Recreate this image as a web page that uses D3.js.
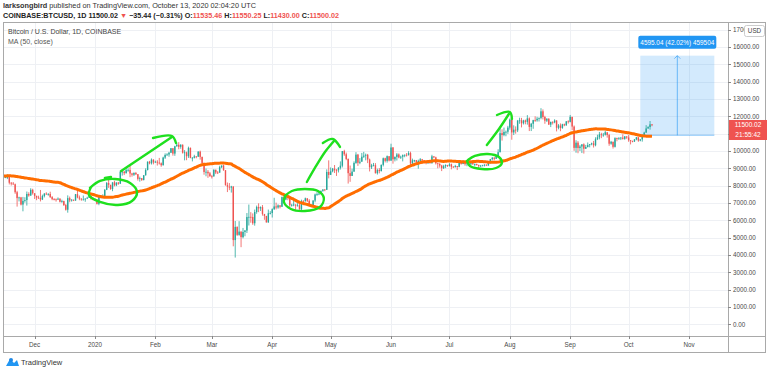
<!DOCTYPE html>
<html>
<head>
<meta charset="utf-8">
<script src="https://cdn.jsdelivr.net/npm/d3@7"></script>
<style>
  body { margin: 0; background: #fff; }
  svg { display: block; font-family: "Liberation Sans", Arial, sans-serif; }
</style>
</head>
<body>
<div id="chart"></div>
<script>
// closes before the visible window, only used to warm up the 50 day average (from 2019-09-26)
var warmupCloses = [8060, 8190, 8210, 8050, 8300,
  8330, 8380, 8240, 8150, 8130, 7870, 8210, 8190, 8590, 8590, 8270, 8310, 8290, 8360, 8160, 8000,
  8080, 7960, 7950, 8230, 8220, 8030, 7470, 7440, 8660, 9250, 9550, 9220, 9420, 9170, 9150];

// daily bars from 2019-11-01 to 2020-10-13 (open = previous close)
var closes = [
  9250, 9310, 9200, 9400, 9310, 9340, 9200, 8770, 8810, 9040, 8720, 8820, 8760, 8630, 8460, 8490, 8500, 8170, 8120, 8080, 7620, 7280, 7320, 6910, 7120, 7170, 7520, 7430, 7760, 7560,
  7410, 7310, 7300, 7200, 7400, 7540, 7510, 7520, 7340, 7220, 7210, 7190, 7250, 7070, 7110, 6880, 6610, 7280, 7150, 7190, 7140, 7510, 7320, 7250, 7200, 7200, 7250, 7300, 7390, 7220, 7170,
  7180, 6950, 7340, 7350, 7350, 7760, 8150, 8050, 7810, 8190, 8020, 8180, 8110, 8810, 8810, 8720, 8900, 8910, 8700, 8630, 8730, 8660, 8390, 8430, 8330, 8600, 8900, 9380, 9290, 9500, 9340,
  9380, 9330, 9290, 9180, 9620, 9770, 9800, 9900, 10160, 9850, 10270, 10360, 10240, 10360, 9900, 9920, 9700, 10180, 9600, 9610, 9690, 9670, 9960, 9660, 9310, 8790, 8800, 8710, 8540,
  8530, 8920, 8760, 8750, 9070, 9160, 8890, 8030, 7940, 7890, 7950, 4860, 5620, 5160, 5350, 5030, 5330, 5410, 6190, 6200, 6190, 5830, 6480, 6770, 6690, 6760, 6370, 6250, 5880, 6410, 6420,
  6640, 6800, 6740, 6860, 6780, 7340, 7200, 7370, 7300, 6870, 6890, 6910, 6850, 6860, 6630, 7120, 7100, 7270, 7130, 6860, 6850, 7140, 7490, 7510, 7540, 7700, 7780, 7760, 8790, 8620,
  8830, 8980, 8900, 8890, 9030, 9150, 9990, 9810, 9540, 8720, 8560, 8810, 9310, 9790, 9320, 9380, 9670, 9730, 9780, 9510, 9060, 9170, 9180, 8720, 8900, 8840, 9200, 9580, 9430, 9700, 9450,
  10200, 9520, 9660, 9800, 9620, 9670, 9760, 9780, 9770, 9880, 9280, 9460, 9470, 9340, 9430, 9520, 9460, 9380, 9300, 9360, 9290, 9690, 9630, 9290, 9250, 9160, 9010, 9120, 9190, 9140,
  9230, 9090, 9060, 9130, 9080, 9340, 9250, 9430, 9240, 9290, 9240, 9300, 9240, 9250, 9190, 9130, 9150, 9170, 9210, 9160, 9390, 9530, 9610, 9550, 9710, 9930, 11030, 10920, 11100, 11110, 11350,
  11810, 11070, 11230, 11190, 11750, 11770, 11600, 11760, 11680, 11880, 11390, 11570, 11780, 11770, 11860, 11910, 12290, 11960, 11750, 11860, 11520, 11680, 11650, 11760, 11340, 11470, 11330, 11540, 11480, 11710, 11680,
  11970, 11410, 10180, 10480, 10170, 10260, 10380, 10130, 10230, 10340, 10390, 10440, 10330, 10680, 10790, 10960, 10940, 10940, 11080, 10920, 10420, 10530, 10240, 10740, 10690, 10730, 10770, 10700, 10840, 10780,
  10620, 10570, 10550, 10670, 10790, 10600, 10670, 10920, 11060, 11300, 11380, 11535.46, 11500.02];

var highs = [
  9280, 9370, 9380, 9590, 9450, 9440, 9370, 9230, 8860, 9120, 9070, 8880, 8840, 8790, 8670, 8530, 8650, 8500, 8200, 8210, 8120, 7700, 7360, 7350, 7350, 7330, 7660, 7620, 7850, 7820,
  7570, 7420, 7420, 7750, 7480, 7570, 7620, 7570, 7650, 7400, 7280, 7260, 7320, 7270, 7190, 7130, 6940, 7440, 7370, 7220, 7190, 7520, 7690, 7430, 7270, 7430, 7270, 7360, 7520, 7410, 7320,
  7250, 7210, 7400, 7400, 7500, 7800, 8210, 8460, 8050, 8190, 8280, 8190, 8200, 8880, 8900, 8840, 9010, 9000, 9190, 8740, 8770, 8790, 8670, 8520, 8440, 8610, 9000, 9400, 9430, 9570, 9520,
  9440, 9470, 9600, 9340, 9670, 9860, 9870, 9950, 10170, 10160, 10300, 10480, 10510, 10390, 10380, 10050, 9960, 10250, 10200, 9650, 9780, 9700, 9990, 10020, 9670, 9340, 8990, 8900, 8790,
  8620, 8940, 8920, 8840, 9150, 9170, 9210, 8900, 8180, 8150, 7990, 7960, 5960, 5650, 5950, 5360, 5560, 5440, 6420, 6910, 6470, 6400, 6620, 6850, 6980, 6800, 6880, 6290, 6260, 6620, 6530,
  6690, 7300, 7020, 6920, 6880, 7370, 7470, 7420, 7370, 7300, 6950, 7180, 6920, 6990, 6940, 7190, 7160, 7310, 7270, 7220, 6930, 7160, 7540, 7630, 7700, 7720, 7790, 7800, 8940, 9460,
  9050, 9020, 9190, 8960, 9070, 9400, 10000, 10070, 9910, 9570, 9160, 8980, 9400, 9930, 9830, 9590, 9890, 9950, 9850, 9830, 9560, 9260, 9310, 9300, 8980, 9010, 9220, 9620, 9610, 9740, 9700,
  10420, 10230, 9680, 9880, 9860, 9730, 9800, 9800, 9880, 9990, 9960, 9560, 9490, 9480, 9500, 9590, 9540, 9480, 9400, 9400, 9420, 9780, 9700, 9670, 9330, 9300, 9200, 9200, 9230, 9200,
  9300, 9270, 9130, 9200, 9130, 9370, 9360, 9460, 9440, 9300, 9300, 9350, 9350, 9280, 9270, 9210, 9190, 9200, 9230, 9220, 9420, 9540, 9650, 9650, 9740, 10100, 11400, 11250, 11350, 11180, 11450,
  11870, 12090, 11480, 11420, 11790, 11920, 11910, 11800, 11810, 12070, 11940, 11620, 11800, 12000, 11970, 11930, 12470, 12400, 12030, 11890, 11890, 11690, 11710, 11830, 11770, 11550, 11590, 11570, 11580, 11720, 11770,
  12080, 11970, 11470, 10620, 10570, 10350, 10400, 10440, 10350, 10490, 10400, 10480, 10580, 10790, 10940, 11100, 11050, 11040, 11180, 11080, 10990, 10580, 10540, 10790, 10770, 10800, 10800, 10960, 10860, 10850,
  10920, 10630, 10600, 10690, 10800, 10800, 10680, 10950, 11110, 11490, 11430, 11730, 11550.25];

var lows = [
  9030, 9200, 9070, 9150, 9180, 9250, 9110, 8700, 8740, 8780, 8620, 8690, 8710, 8570, 8400, 8430, 8380, 8070, 8010, 8050, 7530, 6790, 7090, 6860, 6520, 7020, 6850, 7360, 7410, 7480,
  7230, 7160, 7240, 7090, 7170, 7320, 7470, 7420, 7290, 7160, 7150, 7080, 7190, 7030, 7010, 6830, 6560, 6440, 7040, 7080, 7110, 7130, 7270, 7160, 7130, 7160, 7070, 7240, 7290, 7200, 7150,
  7150, 6910, 6870, 7270, 7320, 7350, 7740, 7870, 7760, 7680, 7960, 7970, 8050, 8110, 8580, 8610, 8700, 8800, 8490, 8520, 8560, 8610, 8290, 8230, 8270, 8300, 8580, 8880, 9230, 9220, 9230,
  9320, 9160, 9220, 9090, 9160, 9540, 9720, 9670, 9880, 9730, 9720, 10250, 10100, 10130, 9850, 9460, 9470, 9600, 9580, 9400, 9570, 9580, 9660, 9500, 9260, 8630, 8540, 8450, 8520,
  8410, 8530, 8670, 8670, 8750, 9010, 8860, 8000, 7630, 7740, 7600, 4500, 3850, 5100, 5110, 4450, 4960, 5080, 5270, 5700, 5860, 5740, 5690, 6380, 6470, 6540, 6270, 6030, 5870, 5860, 6340,
  6160, 6600, 6630, 6670, 6690, 6780, 7110, 7160, 7160, 6770, 6790, 6810, 6570, 6800, 6620, 6480, 7000, 7080, 7050, 6800, 6800, 6830, 7040, 7410, 7450, 7500, 7650, 7680, 7750, 8420,
  8630, 8770, 8730, 8560, 8760, 8930, 9050, 9720, 9470, 8120, 8220, 8560, 8800, 9260, 9140, 9240, 9390, 9600, 9460, 9300, 8820, 8960, 9110, 8700, 8640, 8710, 8820, 9110, 9340, 9330, 9400,
  9420, 9270, 9400, 9450, 9580, 9540, 9400, 9640, 9680, 9730, 9090, 9250, 9350, 9270, 8980, 9380, 9250, 9300, 9230, 9250, 9280, 9280, 9580, 9220, 9000, 9040, 8840, 8960, 9010, 9080,
  9100, 8940, 9040, 9060, 8900, 9060, 9210, 9240, 9150, 9120, 9190, 9180, 9200, 9110, 9160, 9000, 9090, 9120, 9110, 9140, 9150, 9270, 9460, 9460, 9540, 9630, 9920, 10600, 10850, 10850, 10990,
  11230, 10650, 10920, 11000, 11090, 11570, 11360, 11530, 11540, 11520, 11150, 11150, 11280, 11680, 11690, 11700, 11830, 11820, 11570, 11670, 11510, 11380, 11530, 11600, 11130, 11250, 11140, 11280, 11430, 11460, 11580,
  11650, 11200, 10010, 9900, 9870, 10000, 9880, 9850, 10120, 10200, 10210, 10330, 10200, 10270, 10630, 10670, 10740, 10820, 10890, 10770, 10300, 10360, 10140, 10200, 10560, 10650, 10630, 10660, 10650, 10700,
  10530, 10380, 10500, 10520, 10620, 10530, 10560, 10540, 10830, 11050, 11280, 11230, 11430];

var monthTicks = ["2019-12-01", "2020-01-01", "2020-02-01", "2020-03-01", "2020-04-01", "2020-05-01",
  "2020-06-01", "2020-07-01", "2020-08-01", "2020-09-01", "2020-10-01", "2020-11-01"];
var monthLabels = ["Dec", "2020", "Feb", "Mar", "Apr", "May", "Jun", "Jul", "Aug", "Sep", "Oct", "Nov"];
var priceTicks = d3.range(0, 18000, 1000);

// hand drawn marks: [days after 2020-01-01, price]
var drawings = [
  [[-2.6, 7865], [2.6, 8269], [10.3, 8384], [18.0, 8153], [21.6, 7634], [19.0, 7115], [11.8, 6884], [2.6, 7057], [-3.1, 7461], [-2.0, 7923]],
  [[5.1, 8442], [8.2, 8500]],
  [[13.4, 8846], [39.5, 10808]],
  [[29.8, 10750], [39.5, 10866], [41.6, 10462]],
  [[97.5, 7403], [101.1, 7692], [107.8, 7807], [114.5, 7692], [117.5, 7288], [115.5, 6769], [107.8, 6538], [100.6, 6653], [97.0, 7057], [98.0, 7461]],
  [[108.8, 8211], [112.9, 9019], [118.1, 9942], [122.7, 10577]],
  [[117.0, 10462], [122.1, 10692], [125.8, 10231]],
  [[191.5, 9481], [195.1, 9712], [201.7, 9827], [207.4, 9654], [208.9, 9308], [205.9, 9019], [198.7, 8961], [192.5, 9135], [191.0, 9423]],
  [[201.2, 10346], [207.4, 11269], [212.5, 12135]],
  [[206.4, 12077], [213.0, 12250], [214.1, 11846]]
];

// price range tool
var rangeDates = ["2020-10-07", "2020-11-14"];
var rangePrices = [10904.96, 15500];
var rangeLabel = "4595.04 (42.02%) 459504";

var svgWidth = 768, svgHeight = 371;
var pane = { left: 3, right: 728, top: 22, bottom: 336 };
var parse = d3.timeParse("%Y-%m-%d");
var upColor = "#26a69a", downColor = "#ef5350";

var svg = d3.select("#chart").append("svg")
  .attr("width", svgWidth)
  .attr("height", svgHeight);

var xScale = d3.scaleTime()
  .domain([parse("2020-01-01"), parse("2020-11-01")])
  .range([95, 689]);
var yScale = d3.scaleLinear()
  .domain([0, 16000])
  .range([324.3, 47]);

function dayPoint(p) {
  return [xScale(d3.timeHour.offset(parse("2020-01-01"), Math.round(p[0] * 24))), yScale(p[1])];
}

// build bars
var firstDay = parse("2019-11-01");
var bars = closes.map(function(c, i) {
  var o = i === 0 ? warmupCloses[warmupCloses.length - 1] : closes[i - 1];
  return { date: d3.timeDay.offset(firstDay, i), open: o, high: highs[i], low: lows[i], close: c };
});

// 50 day moving average on closes
var allCloses = warmupCloses.concat(closes);
var warmStart = parse("2019-09-26");
var maData = [];
for (var j = 49; j < allCloses.length; j++) {
  maData.push({ date: d3.timeDay.offset(warmStart, j), value: d3.mean(allCloses.slice(j - 49, j + 1)) });
}

// header
var h1 = svg.append("text").attr("x", 3).attr("y", 8).attr("font-size", 7.3).attr("fill", "#333");
h1.append("tspan").attr("font-weight", "bold").text("larksongbird");
h1.append("tspan").text(" published on TradingView.com, October 13, 2020 02:04:20 UTC");

var h2 = svg.append("text").attr("x", 3).attr("y", 17.5).attr("font-size", 7.2).attr("fill", "#222").attr("font-weight", "bold");
h2.append("tspan").text("COINBASE:BTCUSD, 1D 11500.02 ");
h2.append("tspan").attr("fill", downColor).text("▼");
h2.append("tspan").text(" −35.44 (−0.31%) O:");
h2.append("tspan").attr("fill", downColor).text("11535.46");
h2.append("tspan").text(" H:");
h2.append("tspan").attr("fill", downColor).text("11550.25");
h2.append("tspan").text(" L:");
h2.append("tspan").attr("fill", downColor).text("11430.00");
h2.append("tspan").text(" C:");
h2.append("tspan").attr("fill", downColor).text("11500.02");

// clip for the main pane
svg.append("clipPath").attr("id", "paneClip")
  .append("rect")
  .attr("x", pane.left).attr("y", pane.top)
  .attr("width", pane.right - pane.left).attr("height", pane.bottom - pane.top);

var grid = svg.append("g").attr("clip-path", "url(#paneClip)");
grid.selectAll(".hgrid").data(priceTicks).enter().append("line")
  .attr("x1", pane.left).attr("x2", pane.right)
  .attr("y1", function(d) { return Math.round(yScale(d)) + 0.5; })
  .attr("y2", function(d) { return Math.round(yScale(d)) + 0.5; })
  .attr("stroke", "#eef0f4");
grid.selectAll(".vgrid").data(monthTicks).enter().append("line")
  .attr("x1", function(d) { return Math.round(xScale(parse(d))) + 0.5; })
  .attr("x2", function(d) { return Math.round(xScale(parse(d))) + 0.5; })
  .attr("y1", pane.top).attr("y2", pane.bottom)
  .attr("stroke", "#eef0f4");

var chartGroup = svg.append("g").attr("clip-path", "url(#paneClip)");

// price range tool
var rx0 = xScale(parse(rangeDates[0])), rx1 = xScale(parse(rangeDates[1]));
var ry0 = yScale(rangePrices[1]), ry1 = yScale(rangePrices[0]);
chartGroup.append("rect")
  .attr("x", rx0).attr("y", ry0).attr("width", rx1 - rx0).attr("height", ry1 - ry0)
  .attr("fill", "rgba(33,150,243,0.2)");
chartGroup.append("line")
  .attr("x1", rx0).attr("x2", rx1).attr("y1", ry1).attr("y2", ry1)
  .attr("stroke", "rgba(33,150,243,0.45)");
chartGroup.append("line")
  .attr("x1", (rx0 + rx1) / 2).attr("x2", (rx0 + rx1) / 2).attr("y1", ry1).attr("y2", ry0)
  .attr("stroke", "rgba(33,150,243,0.6)");
chartGroup.append("path")
  .attr("d", "M" + ((rx0 + rx1) / 2 - 3) + "," + (ry0 + 3) + "L" + ((rx0 + rx1) / 2) + "," + ry0 + "L" + ((rx0 + rx1) / 2 + 3) + "," + (ry0 + 3))
  .attr("fill", "none").attr("stroke", "rgba(33,150,243,0.6)");

// candles
var candles = chartGroup.selectAll(".candle").data(bars).enter().append("g");
candles.append("line")
  .attr("x1", function(d) { return xScale(d.date); })
  .attr("x2", function(d) { return xScale(d.date); })
  .attr("y1", function(d) { return yScale(d.high); })
  .attr("y2", function(d) { return yScale(d.low); })
  .attr("stroke", function(d) { return d.close >= d.open ? upColor : downColor; })
  .attr("stroke-width", 0.8);
candles.append("rect")
  .attr("x", function(d) { return xScale(d.date) - 0.7; })
  .attr("width", 1.4)
  .attr("y", function(d) { return yScale(Math.max(d.open, d.close)); })
  .attr("height", function(d) { return Math.max(0.8, Math.abs(yScale(d.open) - yScale(d.close))); })
  .attr("fill", function(d) { return d.close >= d.open ? upColor : downColor; });

// moving average
var maLine = d3.line()
  .x(function(d) { return xScale(d.date); })
  .y(function(d) { return yScale(d.value); })
  .curve(d3.curveMonotoneX);
chartGroup.append("path")
  .datum(maData)
  .attr("d", maLine)
  .attr("fill", "none")
  .attr("stroke", "#ff6d00")
  .attr("stroke-width", 3)
  .attr("stroke-linejoin", "round");

// green hand drawings
var drawLine = d3.line().curve(d3.curveCatmullRom);
chartGroup.selectAll(".drawing").data(drawings).enter().append("path")
  .attr("d", function(d) { return drawLine(d.map(dayPoint)); })
  .attr("fill", "none")
  .attr("stroke", "#1ee01e")
  .attr("stroke-width", 2.4)
  .attr("stroke-linecap", "round")
  .attr("stroke-linejoin", "round");

// range label
var lx = (rx0 + rx1) / 2;
svg.append("rect")
  .attr("x", lx - 39).attr("y", ry0 - 20).attr("width", 78).attr("height", 13).attr("rx", 2)
  .attr("fill", "#2196f3");
svg.append("text")
  .attr("x", lx).attr("y", ry0 - 11).attr("text-anchor", "middle")
  .attr("font-size", 6.4).attr("fill", "#fff")
  .text(rangeLabel);

// legend
svg.append("text").attr("x", 8).attr("y", 34).attr("font-size", 7).attr("fill", "#444")
  .text("Bitcoin / U.S. Dollar, 1D, COINBASE");
svg.append("text").attr("x", 8).attr("y", 43.5).attr("font-size", 7).attr("fill", "#555")
  .text("MA (50, close)");

// frame and axis separators
svg.append("rect")
  .attr("x", 3.5).attr("y", 22.5).attr("width", 762).attr("height", 330)
  .attr("fill", "none").attr("stroke", "#a9a9a9");
svg.append("line").attr("x1", pane.right + 0.5).attr("x2", pane.right + 0.5)
  .attr("y1", 22).attr("y2", 353).attr("stroke", "#a9a9a9");
svg.append("line").attr("x1", 3).attr("x2", 766)
  .attr("y1", pane.bottom + 0.5).attr("y2", pane.bottom + 0.5).attr("stroke", "#a9a9a9");

// price axis (the label under the last price badges is hidden, as in the terminal)
var lastPrice = closes[closes.length - 1];
var lastY = yScale(lastPrice);
var visibleTicks = priceTicks.filter(function(d) {
  var ty = yScale(d);
  return !(ty > lastY - 6 && ty < lastY + 16);
});
var priceFmt = d3.format(".2f");
var pAxis = svg.append("g");
pAxis.selectAll(".ptick").data(priceTicks).enter().append("line")
  .attr("x1", pane.right).attr("x2", pane.right + 3)
  .attr("y1", function(d) { return Math.round(yScale(d)) + 0.5; })
  .attr("y2", function(d) { return Math.round(yScale(d)) + 0.5; })
  .attr("stroke", "#888");
pAxis.selectAll(".plabel").data(visibleTicks).enter().append("text")
  .attr("x", 733).attr("y", function(d) { return yScale(d) + 2.3; })
  .attr("font-size", 6.3).attr("fill", "#4a4a4a")
  .text(function(d) { return priceFmt(d); });

// time axis
var tAxis = svg.append("g");
tAxis.selectAll(".ttick").data(monthTicks).enter().append("line")
  .attr("x1", function(d) { return Math.round(xScale(parse(d))) + 0.5; })
  .attr("x2", function(d) { return Math.round(xScale(parse(d))) + 0.5; })
  .attr("y1", pane.bottom).attr("y2", pane.bottom + 3)
  .attr("stroke", "#888");
tAxis.selectAll(".tlabel").data(monthTicks).enter().append("text")
  .attr("x", function(d) { return xScale(parse(d)); })
  .attr("y", 347)
  .attr("text-anchor", "middle")
  .attr("font-size", 6.3).attr("fill", "#4a4a4a")
  .text(function(d, i) { return monthLabels[i]; });

// last price and countdown badges
svg.append("rect").attr("x", 729).attr("y", lastY - 5).attr("width", 38).attr("height", 10).attr("fill", downColor);
svg.append("text").attr("x", 748).attr("y", lastY + 2.3).attr("text-anchor", "middle")
  .attr("font-size", 6.5).attr("fill", "#fff").text(priceFmt(lastPrice));
svg.append("rect").attr("x", 729).attr("y", lastY + 5).attr("width", 38).attr("height", 10).attr("fill", downColor);
svg.append("text").attr("x", 748).attr("y", lastY + 12.3).attr("text-anchor", "middle")
  .attr("font-size", 6.5).attr("fill", "#fff").text("21:55:42");

// USD badge
svg.append("rect").attr("x", 744.5).attr("y", 25.5).attr("width", 20).attr("height", 11).attr("rx", 2)
  .attr("fill", "#fff").attr("stroke", "#ccc");
svg.append("text").attr("x", 754.5).attr("y", 33.3).attr("text-anchor", "middle")
  .attr("font-size", 6.3).attr("fill", "#444").text("USD");

// TradingView logo
var logo = svg.append("g").attr("transform", "translate(5,357)");
logo.append("path").attr("d", "M1,9 L5,2 L9,6 L12,3 L14,9 Z").attr("fill", "#2196f3");
logo.append("circle").attr("cx", 6).attr("cy", 3).attr("r", 2).attr("fill", "#1e88e5");
svg.append("text").attr("x", 21).attr("y", 365).attr("font-size", 7.5).attr("fill", "#333")
  .text("TradingView");
</script>
</body>
</html>
